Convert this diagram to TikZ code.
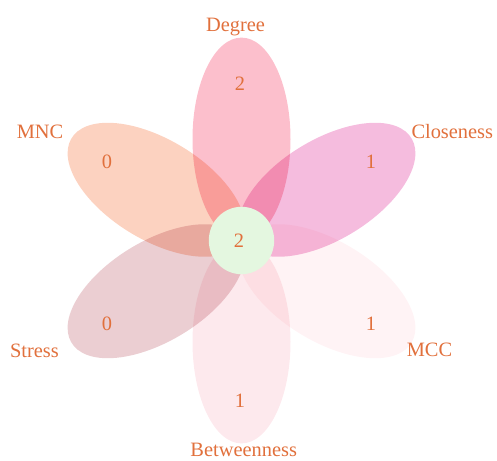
\documentclass[tikz,border=0pt]{standalone}
\usepackage{fontspec}
\setmainfont{Liberation Serif}
\usetikzlibrary{positioning}
\definecolor{degreecol}{RGB}{252,191,204}
\definecolor{closecol}{RGB}{245,188,222}
\definecolor{mcccol}{RGB}{255,243,245}
\definecolor{betwcol}{RGB}{253,233,237}
\definecolor{stresscol}{RGB}{235,206,210}
\definecolor{mnccol}{RGB}{252,210,192}
\definecolor{corecol}{RGB}{228,247,224}
\definecolor{labelcol}{RGB}{225,112,60}
\tikzset{petal/.style = {fill=#1, blend mode=multiply}}
\tikzset{setname/.style = {text=labelcol, anchor=base, inner sep=0pt,
                           font=\fontsize{20.4}{24}\selectfont}}
\tikzset{count/.style = {text=labelcol, inner sep=0pt,
                         font=\fontsize{20.4}{24}\selectfont}}

\begin{document}
\begin{tikzpicture}[x=1pt, y=1pt]
      \useasboundingbox (-241.5, -219.5) rectangle (255.5, 240.5);

      \begin{scope}[yscale=1.031]
        \foreach \ang/\col in {90/degreecol, 30/closecol, -30/mcccol,
                               -90/betwcol, -150/stresscol, 150/mnccol} {
          \fill [petal=\col, rotate=\ang] (98.4, 0) ellipse [x radius=98.4, y radius=49];
        }
        \fill [corecol] (0, 0) circle [radius=32.7];
      \end{scope}

      \node [setname] (lblDegree) at (-6, 208.8) {Degree};
      \node [setname] (lblClose) at (210.8, 102.2) {Closeness};
      \node [setname] (lblMCC) at (188, -116.2) {MCC};
      \node [setname] (lblBetw) at (2.2, -215.6) {Betweenness};
      \node [setname] (lblStress) at (-207, -117.2) {Stress};
      \node [setname] (lblMNC) at (-201.5, 102.2) {MNC};

      \node [count] (numDegree) at (-1.5, 156.5) {2};
      \node [count] (numClose) at (129.5, 78.5) {1};
      \node [count] (numMCC) at (129.5, -83.5) {1};
      \node [count] (numBetw) at (-1.5, -160.5) {1};
      \node [count] (numStress) at (-134.5, -83.5) {0};
      \node [count] (numMNC) at (-134.5, 78.5) {0};
      \node [count] (numCore) at (-2.5, 0) {2};
    \end{tikzpicture}
\end{document}
